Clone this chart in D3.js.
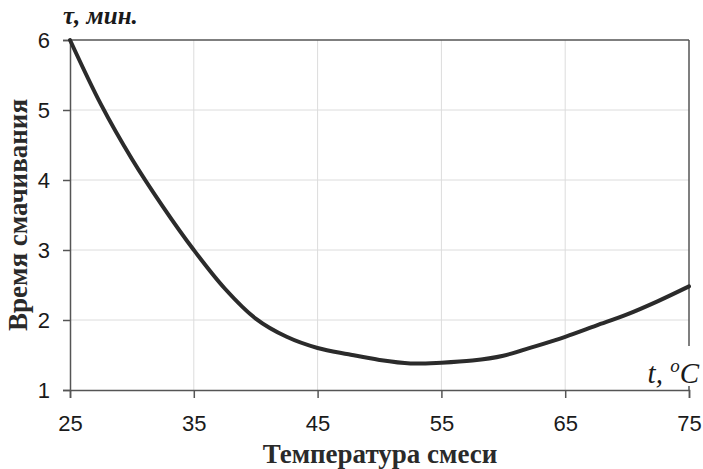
<!DOCTYPE html>
<html>
<head>
<meta charset="utf-8">
<script src="https://cdn.jsdelivr.net/npm/d3@7"></script>
<style>
  body { margin: 0; background: #fff; }
  svg { display: block; }
</style>
</head>
<body>
<div id="chart"></div>
<script>
// temperature of mixture (°C) and wetting time (min)
const temps = [25, 27.5, 30, 32.5, 35, 37.5, 40, 42.5, 45, 47.5, 50, 52.5, 55, 57.5, 60, 62.5, 65, 67.5, 70, 72.5, 75];
const times = [6.0, 5.08, 4.3, 3.62, 3.0, 2.45, 2.02, 1.76, 1.6, 1.51, 1.43, 1.38, 1.39, 1.42, 1.49, 1.62, 1.76, 1.92, 2.08, 2.27, 2.48];
const xTicks = [25, 35, 45, 55, 65, 75];
const yTicks = [1, 2, 3, 4, 5, 6];

const width = 703, height = 469;
const margin = { top: 40, right: 14, bottom: 79, left: 70 };

const svg = d3.select("#chart").append("svg")
  .attr("width", width).attr("height", height);

const x = d3.scaleLinear().domain([25, 75]).range([margin.left, width - margin.right]);
const y = d3.scaleLinear().domain([1, 6]).range([height - margin.bottom, margin.top]);

// grid
svg.append("g").selectAll("line").data(xTicks.slice(1, -1)).join("line")
  .attr("x1", d => x(d)).attr("x2", d => x(d))
  .attr("y1", y(1)).attr("y2", y(6))
  .attr("stroke", "#dcdcdc").attr("stroke-width", 1);
svg.append("g").selectAll("line").data(yTicks.slice(1, -1)).join("line")
  .attr("x1", x(25)).attr("x2", x(75))
  .attr("y1", d => y(d)).attr("y2", d => y(d))
  .attr("stroke", "#dcdcdc").attr("stroke-width", 1);

// frame top and right
svg.append("line").attr("x1", x(25)).attr("x2", x(75)).attr("y1", y(6)).attr("y2", y(6))
  .attr("stroke", "#555").attr("stroke-width", 1.5);
svg.append("line").attr("x1", x(75)).attr("x2", x(75)).attr("y1", y(6)).attr("y2", y(1))
  .attr("stroke", "#555").attr("stroke-width", 1.5);

// axes
const xAxis = svg.append("g")
  .attr("transform", `translate(0,${y(1)})`)
  .call(d3.axisBottom(x).tickValues(xTicks).tickFormat(d3.format("d")).tickSize(8).tickPadding(17));
const yAxis = svg.append("g")
  .attr("transform", `translate(${x(25)},0)`)
  .call(d3.axisLeft(y).tickValues(yTicks).tickFormat(d3.format("d")).tickSize(7).tickPadding(13));

[xAxis, yAxis].forEach(g => {
  g.select(".domain").attr("stroke", "#555").attr("stroke-width", 1.5);
  g.selectAll(".tick line").attr("stroke", "#555").attr("stroke-width", 1.5);
  g.selectAll(".tick text").attr("fill", "#1a1a1a")
    .attr("font-family", "'Liberation Sans', Arial, sans-serif").attr("font-size", 22);
});
xAxis.attr("font-size", 22);
yAxis.attr("font-size", 22);

// curve
const line = d3.line()
  .x((d, i) => x(temps[i]))
  .y(d => y(d))
  .curve(d3.curveCatmullRom.alpha(0.5));
svg.append("path").datum(times)
  .attr("d", line)
  .attr("fill", "none")
  .attr("stroke", "#2b2b2b")
  .attr("stroke-width", 4)
  .attr("stroke-linecap", "round");

// label t, °C on the right, with a white patch over the frame
const serif = "'Liberation Serif', 'Times New Roman', serif";
svg.append("rect").attr("x", 630).attr("y", 346).attr("width", 73).attr("height", 40).attr("fill", "#fff");
const tl = svg.append("text").attr("x", 699).attr("y", 383)
  .attr("text-anchor", "end")
  .attr("font-family", serif).attr("font-style", "italic").attr("font-size", 29)
  .attr("fill", "#1a1a1a");
tl.append("tspan").text("t, ");
tl.append("tspan").text("o").attr("dy", -11).attr("font-size", 19);
tl.append("tspan").text("C").attr("dy", 11);

// top label
svg.append("text").attr("x", 63).attr("y", 24)
  .attr("font-family", serif).attr("font-style", "italic").attr("font-weight", "bold")
  .attr("font-size", 25).attr("fill", "#1a1a1a")
  .text("τ, мин.");

// axis titles
svg.append("text")
  .attr("transform", `translate(27,${(y(1) + y(6)) / 2}) rotate(-90)`)
  .attr("text-anchor", "middle")
  .attr("font-family", serif).attr("font-weight", "bold").attr("font-size", 27)
  .attr("fill", "#2a2a2a")
  .text("Время смачивания");
svg.append("text")
  .attr("x", 380).attr("y", 463)
  .attr("text-anchor", "middle")
  .attr("font-family", serif).attr("font-weight", "bold").attr("font-size", 27)
  .attr("fill", "#2a2a2a")
  .text("Температура смеси");
</script>
</body>
</html>
